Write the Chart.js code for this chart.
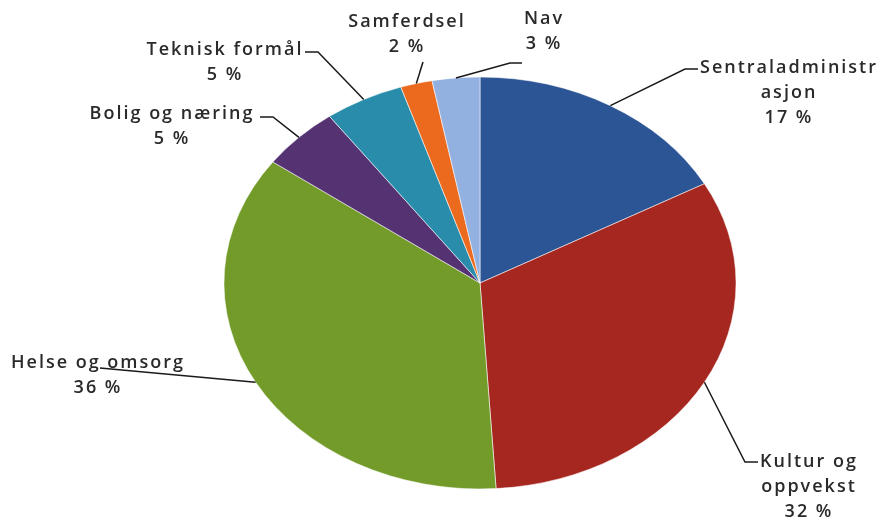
<!DOCTYPE html>
<html>
<head>
<meta charset="utf-8">
<script src="https://cdn.jsdelivr.net/npm/chart.js@4"></script>
<style>
  html, body { margin: 0; padding: 0; background: #fff; }
  #wrap { width: 885px; height: 521px; }
</style>
</head>
<body>
<div id="wrap"><canvas id="pieChart" width="885" height="521"></canvas></div>
<script>
  // data
  const categories = ['Sentraladministrasjon', 'Kultur og oppvekst', 'Helse og omsorg', 'Bolig og næring', 'Teknisk formål', 'Samferdsel', 'Nav'];
  const shares = [17, 32, 36, 5, 5, 2, 3];
  const labelLines = [
    ['Sentraladministr', 'asjon'],
    ['Kultur og', 'oppvekst'],
    ['Helse og omsorg'],
    ['Bolig og næring'],
    ['Teknisk formål'],
    ['Samferdsel'],
    ['Nav']
  ];
  const colors = ['#2c5596', '#a5271f', '#739b2a', '#553272', '#2a8cab', '#eb6a1e', '#92b0e0'];

  // the original pie is squashed into an ellipse
  const X_STRETCH = 1.243;

  // where each label sits and how its leader line bends
  const labelLayout = [
    { x: 789, y: 68,  path: [[685, 69], [698, 69]] },
    { x: 809, y: 462, path: [[745, 462], [758, 462]] },
    { x: 98,  y: 363, path: [[100, 368]] },
    { x: 172, y: 114, path: [[273, 117], [260, 117]] },
    { x: 225, y: 50,  path: [[318, 52], [305, 52]] },
    { x: 407, y: 22,  path: [[423, 62]] },
    { x: 544, y: 19,  path: [[510, 63], [522, 63]] }
  ];

  const ellipsePie = {
    id: 'ellipsePie',
    beforeDatasetsDraw(chart) {
      const arc = chart.getDatasetMeta(0).data[0];
      const ctx = chart.ctx;
      ctx.save();
      ctx.translate(arc.x, arc.y);
      ctx.scale(X_STRETCH, 1);
      ctx.translate(-arc.x, -arc.y);
    },
    afterDatasetsDraw(chart) {
      chart.ctx.restore();
    },
    afterDraw(chart) {
      const ctx = chart.ctx;
      const meta = chart.getDatasetMeta(0);
      ctx.save();
      ctx.font = '600 18px "Open Sans"';
      ctx.letterSpacing = '2px';
      ctx.textAlign = 'center';
      ctx.textBaseline = 'middle';
      meta.data.forEach((arc, i) => {
        const mid = (arc.startAngle + arc.endAngle) / 2;
        const ex = arc.x + Math.cos(mid) * arc.outerRadius * X_STRETCH;
        const ey = arc.y + Math.sin(mid) * arc.outerRadius;
        const lay = labelLayout[i];
        ctx.strokeStyle = '#1a1a1a';
        ctx.lineWidth = 1.5;
        ctx.beginPath();
        ctx.moveTo(ex, ey);
        lay.path.forEach(p => ctx.lineTo(p[0], p[1]));
        ctx.stroke();
        ctx.fillStyle = '#2a2a2a';
        const lines = labelLines[i].concat([shares[i] + ' %']);
        lines.forEach((t, k) => ctx.fillText(t, lay.x, lay.y + k * 25));
      });
      ctx.restore();
    }
  };

  const ctx = document.getElementById('pieChart').getContext('2d');
  const pieChart = new Chart(ctx, {
    type: 'pie',
    data: {
      labels: categories,
      datasets: [{
        data: shares,
        backgroundColor: colors,
        borderColor: '#ffffff',
        borderWidth: 0.5,
        hoverOffset: 0,
        radius: 206
      }]
    },
    options: {
      responsive: false,
      animation: false,
      layout: {
        padding: { left: 274, right: 199, top: 77, bottom: 32 }
      },
      plugins: {
        legend: { display: false },
        tooltip: { enabled: false }
      }
    },
    plugins: [ellipsePie]
  });
</script>
</body>
</html>
